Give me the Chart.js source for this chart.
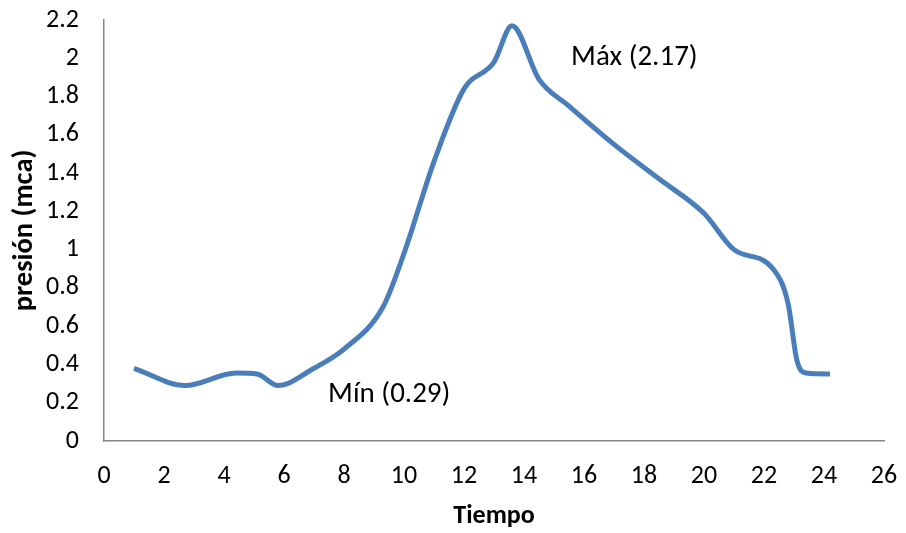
<!DOCTYPE html>
<html>
<head>
<meta charset="utf-8">
<script src="https://cdn.jsdelivr.net/npm/chart.js@4/dist/chart.umd.min.js"></script>
<style>
html,body{margin:0;padding:0;background:#fff;}
#wrap{width:906px;height:533px;position:relative;}
</style>
</head>
<body>
<div id="wrap"><canvas id="c" width="906" height="533"></canvas></div>
<script>
const tiempo  = [1, 2.7, 4.4, 5.1, 5.8, 7, 8, 9.3, 10, 11, 12, 13, 13.6, 14.5, 15.5, 17, 18.5, 20, 21, 22.3, 22.8, 23.1, 23.4, 24.2];
const presion = [0.38, 0.29, 0.355, 0.35, 0.29, 0.38, 0.48, 0.70, 0.98, 1.46, 1.84, 1.98, 2.17, 1.89, 1.75, 1.55, 1.37, 1.19, 1.00, 0.90, 0.72, 0.42, 0.355, 0.35];
const xTicks = [0, 2, 4, 6, 8, 10, 12, 14, 16, 18, 20, 22, 24, 26];
const yTicks = [0, 0.2, 0.4, 0.6, 0.8, 1, 1.2, 1.4, 1.6, 1.8, 2, 2.2];
const notes = [
  {text: "Máx (2.17)", x: 15.57, y: 1.966},
  {text: "Mín (0.29)", x: 7.47, y: 0.203}
];

const FONT = "Carlito, Lato, 'Open Sans', sans-serif";

const notePlugin = {
  id: 'notes',
  afterDatasetsDraw(chart) {
    const {ctx, scales: {x, y}} = chart;
    ctx.save();
    ctx.font = "29px " + FONT;
    ctx.fillStyle = "#000";
    ctx.textAlign = "left";
    ctx.textBaseline = "alphabetic";
    notes.forEach(n => ctx.fillText(n.text, x.getPixelForValue(n.x), y.getPixelForValue(n.y)));
    ctx.restore();
  }
};

new Chart(document.getElementById('c'), {
  type: 'scatter',
  data: {
    datasets: [{
      data: tiempo.map((t, i) => ({x: t, y: presion[i]})),
      showLine: true,
      borderColor: '#4a7ebb',
      borderWidth: 5,
      pointRadius: 0,
      cubicInterpolationMode: 'monotone',
      fill: false
    }]
  },
  options: {
    responsive: false,
    animation: false,
    layout: {padding: {top: 0, right: 0, bottom: -3, left: 8}},
    plugins: {legend: {display: false}, tooltip: {enabled: false}},
    scales: {
      x: {
        type: 'linear', min: 0, max: 26,
        afterBuildTicks: s => { s.ticks = xTicks.map(v => ({value: v})); },
        afterFit: s => { s.height = 95; s.paddingLeft = 0; s.paddingRight = 22; },
        grid: {display: false, drawTicks: false},
        border: {display: true, color: '#868686', width: 1.5},
        ticks: {color: '#000', font: {size: 26, family: FONT}, padding: 20, maxRotation: 0, autoSkip: false},
        title: {display: true, text: 'Tiempo', color: '#000', font: {size: 26, weight: 'bold', family: FONT}, padding: {top: 10}}
      },
      y: {
        type: 'linear', min: 0, max: 2.2,
        afterBuildTicks: s => { s.ticks = yTicks.map(v => ({value: v})); },
        afterFit: s => { s.width = 96; s.paddingTop = 20; s.paddingBottom = 0; },
        grid: {display: false, drawTicks: false},
        border: {display: true, color: '#868686', width: 1.5},
        ticks: {color: '#000', font: {size: 26, family: FONT}, padding: 25, autoSkip: false,
          callback: v => String(Number(v.toFixed(1)))},
        title: {display: true, text: 'presión (mca)', color: '#000', font: {size: 28.5, weight: 'bold', family: FONT}, padding: 0}
      }
    }
  },
  plugins: [notePlugin]
});
</script>
</body>
</html>
